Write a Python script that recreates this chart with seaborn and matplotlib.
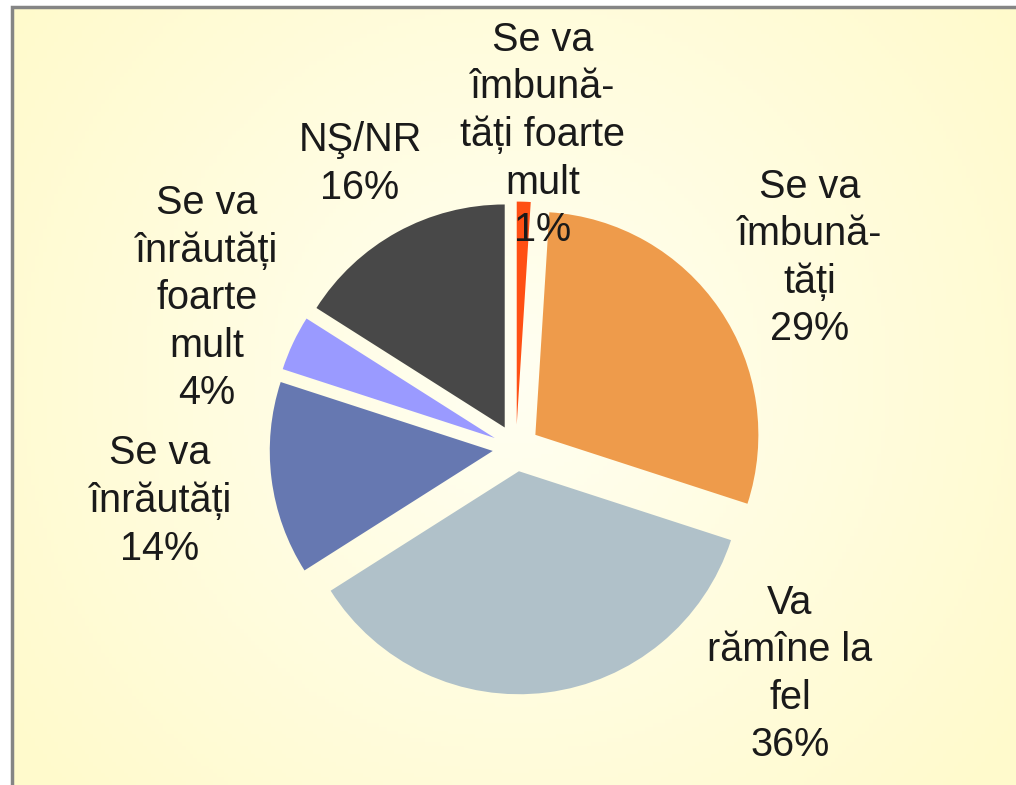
import numpy as np
import seaborn as sns
import matplotlib.pyplot as plt
from matplotlib.patches import Rectangle

# data (clockwise from the top)
labels = [
    "Se va\nîmbună-\ntăți foarte\nmult\n1%",
    "Se va\nîmbună-\ntăți\n29%",
    "Va\nrămîne la\nfel\n36%",
    "Se va\nînrăutăți\n14%",
    "Se va\nînrăutăți\nfoarte\nmult\n4%",
    "NŞ/NR\n16%",
]
values = [1, 29, 36, 14, 4, 16]
colors = ["#FF5014", "#EE9B4B", "#B0C1C9", "#6678B1", "#9A9AFF", "#484848"]

# label centres in pixels (x, y from top)
label_pos = [(543, 135), (810, 258), (790, 674), (160, 501), (207, 298), (360, 164)]

W, H = 1016, 785
sns.set_theme(style="white")
plt.rcParams["font.family"] = ["Liberation Sans", "DejaVu Sans"]

fig = plt.figure(figsize=(W / 100, H / 100), dpi=100)
fig.patch.set_facecolor("white")

# background panel with soft radial gradient
bg = fig.add_axes([12 / W, 0, 1 - 12 / W, 1 - 7 / H])
bg.set_axis_off()
yy, xx = np.mgrid[0:200, 0:260]
dist = np.sqrt(((xx - 130) / 160.0) ** 2 + ((yy - 95) / 160.0) ** 2)
t = np.clip(dist, 0, 1)[..., None]
inner = np.array([255, 255, 242]) / 255
outer = np.array([255, 250, 204]) / 255
img = inner * (1 - t) + outer * t
bg.imshow(img, aspect="auto", extent=(0, 1, 0, 1), origin="upper")
bg.set_xlim(0, 1)
bg.set_ylim(0, 1)

# frame (top and left visible)
fig.add_artist(Rectangle((12 / W, -0.05), 1.1, 1 - 7 / H + 0.05, transform=fig.transFigure,
                         fill=False, edgecolor="#858585", linewidth=2.5))

# pie axes: centre at (516, 448), radius 223 px
cx, cy, r = 516, 448, 223
half = 290
ax = fig.add_axes([(cx - half) / W, (H - cy - half) / H, 2 * half / W, 2 * half / H])
ax.pie(values, colors=colors, startangle=90, counterclock=False,
       explode=[0.105] * len(values), radius=1,
       wedgeprops=dict(linewidth=0))
lim = half / r
ax.set_xlim(-lim, lim)
ax.set_ylim(-lim, lim)
ax.set_aspect("auto")
ax.set_axis_off()

for txt, (px, py) in zip(labels, label_pos):
    fig.text(px / W, 1 - py / H, txt, ha="center", va="center", multialignment="center",
             fontsize=28.5, color="#1A1A1A", linespacing=1.31)

fig.savefig("out.png", dpi=100)
